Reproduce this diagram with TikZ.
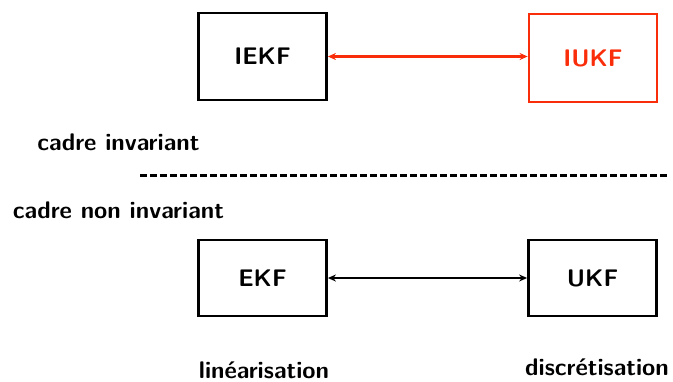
\documentclass[tikz,border=0pt]{standalone}
\usetikzlibrary{arrows.meta}
\definecolor{iukfred}{RGB}{250,45,10}
\begin{document}
\begin{tikzpicture}[x=0.5pt, y=-0.5pt, font=\sffamily\bfseries\large,
    filtre/.style={draw, line width=1.4pt, minimum width=64pt, inner sep=0pt, font=\sffamily\bfseries\large},
    lien/.style={line width=1.2pt, {Stealth[length=4pt,width=3.5pt]}-{Stealth[length=4pt,width=3.5pt]}}]
    \useasboundingbox (0,0) rectangle (673,381);

    \node[filtre, minimum height=43.5pt] (iekf) at (262.5,56.5) {IEKF};
    \node[filtre, minimum height=44pt, draw=iukfred, text=iukfred] (iukf) at (593,58) {IUKF};
    \node[filtre, minimum height=38pt] (ekf) at (262.5,278) {EKF};
    \node[filtre, minimum height=38pt] (ukf) at (592.5,278) {UKF};

    \draw[lien, iukfred] (iekf.east) -- (iukf.west |- iekf.east);
    \draw[lien] (ekf.east) -- (ukf.west);

    \node (inv) at (118.5,142) {cadre invariant};
    \node (noninv) at (118.5,210) {cadre non invariant};
    \coordinate (sepg) at (140,175);
    \coordinate (sepd) at (670,175);
    \draw[line width=1.5pt, dash pattern=on 3.5pt off 1.5pt] (sepg) -- (sepd);

    \node (lin) at (264,370) {linéarisation};
    \node (disc) at (597,367) {discrétisation};
\end{tikzpicture}
\end{document}
